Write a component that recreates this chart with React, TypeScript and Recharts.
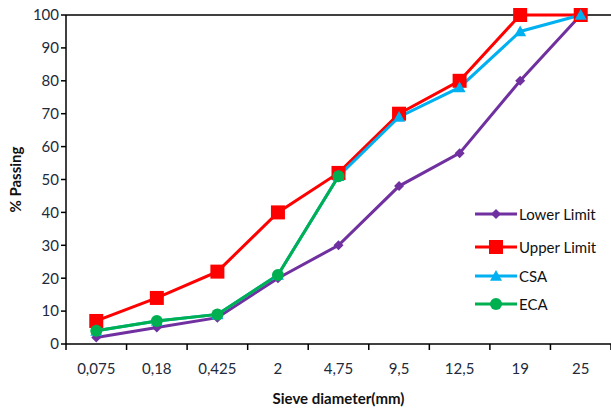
import React from 'react';
import { LineChart, Line, XAxis, YAxis, ReferenceLine, Legend, Label } from 'recharts';

// sieve sizes (mm)
const sieves = ['0,075', '0,18', '0,425', '2', '4,75', '9,5', '12,5', '19', '25'];
const lowerLimit = [2, 5, 8, 20, 30, 48, 58, 80, 100];
const upperLimit = [7, 14, 22, 40, 52, 70, 80, 100, 100];
const csa = [4, 7, 9, 21, 51, 69, 78, 95, 100];
const eca = [4, 7, 9, 21, 51, null, null, null, null];
const yTicks = [0, 10, 20, 30, 40, 50, 60, 70, 80, 90, 100];

const data = sieves.map((s, i) => ({
  sieve: s,
  lower: lowerLimit[i],
  upper: upperLimit[i],
  csa: csa[i],
  eca: eca[i],
}));

const W = 611;
const H = 410;
const LEFT = 66;
const FONT = 'Lato, "Open Sans", sans-serif';
const TEXT = '#222a3a';
const step = (W - LEFT) / sieves.length;

const series = [
  { key: 'lower', name: 'Lower Limit', color: '#7030a0', shape: 'diamond' },
  { key: 'upper', name: 'Upper Limit', color: '#ff0000', shape: 'square' },
  { key: 'csa', name: 'CSA', color: '#00b0f0', shape: 'triangle' },
  { key: 'eca', name: 'ECA', color: '#00b050', shape: 'circle' },
];

const Marker = ({ cx, cy, shape, color }: any) => {
  if (cx == null || cy == null || isNaN(cy)) return null;
  if (shape === 'diamond') {
    const r = 5;
    return <path d={`M${cx},${cy - r}L${cx + r},${cy}L${cx},${cy + r}L${cx - r},${cy}Z`} fill={color} />;
  }
  if (shape === 'square') {
    const r = 7;
    return <rect x={cx - r} y={cy - r} width={2 * r} height={2 * r} fill={color} />;
  }
  if (shape === 'triangle') {
    const r = 6;
    return <path d={`M${cx},${cy - r}L${cx + r},${cy + r * 0.8}L${cx - r},${cy + r * 0.8}Z`} fill={color} />;
  }
  return <circle cx={cx} cy={cy} r={6} fill={color} />;
};

const XTick = ({ x, y, payload, index }: any) => (
  <g>
    <line x1={x - step / 2} x2={x - step / 2} y1={y - 8} y2={y - 2} stroke="#000" strokeWidth={1.5} />
    {index === sieves.length - 1 && (
      <line x1={x + step / 2} x2={x + step / 2} y1={y - 8} y2={y - 2} stroke="#000" strokeWidth={1.5} />
    )}
    <text x={x} y={y + 22} textAnchor="middle" fontSize={15} fontFamily={FONT} fill={TEXT}>
      {payload.value}
    </text>
  </g>
);

const LegendBox = () => (
  <div style={{ fontFamily: FONT, fontSize: 15, color: '#111' }}>
    {series.map((s, i) => (
      <div key={s.key} style={{ display: 'flex', alignItems: 'center', height: [34, 31, 28, 28][i] }}>
        <svg width={44} height={16}>
          <line x1={1} x2={43} y1={8} y2={8} stroke={s.color} strokeWidth={3} />
          <Marker cx={22} cy={8} shape={s.shape} color={s.color} />
        </svg>
        <span style={{ marginLeft: 1 }}>{s.name}</span>
      </div>
    ))}
  </div>
);

const App: React.FC = () => {
  return (
    <div style={{ position: 'absolute', left: 0, top: 0, background: '#fff' }}>
      <LineChart width={W} height={H} data={data} margin={{ top: 15, right: 0, bottom: 0, left: 0 }}>
        <ReferenceLine y={100} stroke="#000" strokeWidth={1.5} />
        <XAxis
          dataKey="sieve"
          height={66}
          padding={{ left: step / 2, right: step / 2 }}
          axisLine={{ stroke: '#000', strokeWidth: 1.5 }}
          tickLine={false}
          tick={<XTick />}
          interval={0}
        >
          <Label
            value="Sieve diameter(mm)"
            position="insideBottom"
            offset={6}
            style={{ fontFamily: FONT, fontSize: 15, fontWeight: 'bold', fill: '#111' }}
          />
        </XAxis>
        <YAxis
          width={LEFT}
          domain={[0, 100]}
          ticks={yTicks}
          interval={0}
          axisLine={{ stroke: '#000', strokeWidth: 1.5 }}
          tickLine={{ stroke: '#000', strokeWidth: 1.5 }}
          tickSize={5}
          tick={{ fontFamily: FONT, fontSize: 15, fill: TEXT }}
        >
          <Label
            value="% Passing"
            angle={-90}
            position="insideLeft"
            offset={16}
            style={{ fontFamily: FONT, fontSize: 15, fontWeight: 'bold', fill: '#111', textAnchor: 'middle' }}
          />
        </YAxis>
        <Legend
          layout="vertical"
          verticalAlign="middle"
          align="center"
          content={<LegendBox />}
          wrapperStyle={{ position: 'absolute', left: 474, top: 197, width: 140 }}
        />
        {series.map((s) => (
          <Line
            key={s.key}
            dataKey={s.key}
            name={s.name}
            stroke={s.color}
            strokeWidth={3}
            dot={<Marker shape={s.shape} color={s.color} />}
            activeDot={false}
            connectNulls={false}
            isAnimationActive={false}
          />
        ))}
      </LineChart>
    </div>
  );
};

export default App;
